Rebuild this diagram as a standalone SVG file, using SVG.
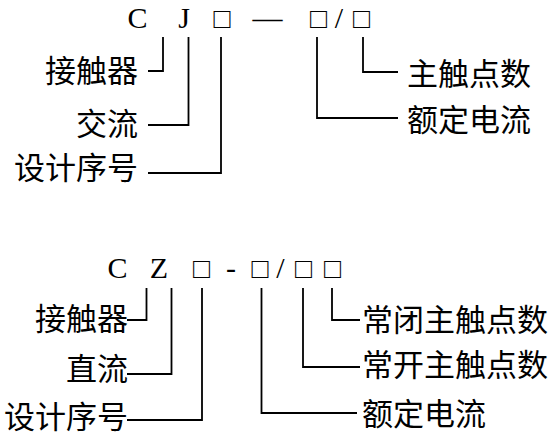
<svg xmlns="http://www.w3.org/2000/svg" width="550" height="436" viewBox="0 0 550 436">
<style>
.lat{font-family:"Liberation Serif","Times New Roman",serif;font-size:30px;fill:#000;text-anchor:middle}
.box{font-family:"Liberation Serif","Times New Roman",serif;font-size:28px;fill:#000;text-anchor:middle}
.cn{font-family:"Noto Sans CJK SC","Noto Sans CJK JP",sans-serif;font-size:31px;fill:#000}
.end{text-anchor:end}
.conn path{fill:none;stroke:#000;stroke-width:1.8}
</style>
<rect width="550" height="436" fill="#fff"/>
<g id="code1">
<text class="lat" x="137.5" y="28">C</text>
<text class="lat" x="184" y="28">J</text>
<text class="box" x="222" y="28">□</text>
<text class="lat" x="267.5" y="28">—</text>
<text class="box" x="318.5" y="28">□</text>
<text class="lat" x="339" y="28">/</text>
<text class="box" x="361.5" y="28">□</text>
</g>
<g id="n1-jcq"><text class="cn end" x="138" y="82">接触器</text></g>
<g id="n1-jl"><text class="cn end" x="138" y="135">交流</text></g>
<g id="n1-sjxh"><text class="cn end" x="138" y="179">设计序号</text></g>
<g id="n1-zcds"><text class="cn" x="407" y="85">主触点数</text></g>
<g id="n1-eddl"><text class="cn" x="407" y="131">额定电流</text></g>
<g id="code2">
<text class="lat" x="117.5" y="278">C</text>
<text class="lat" x="159" y="278">Z</text>
<text class="box" x="201.5" y="278">□</text>
<text class="lat" x="231" y="278">-</text>
<text class="box" x="260" y="278">□</text>
<text class="lat" x="280.5" y="278">/</text>
<text class="box" x="303.5" y="278">□</text>
<text class="box" x="332.5" y="278">□</text>
</g>
<g id="n2-jcq"><text class="cn end" x="128" y="330">接触器</text></g>
<g id="n2-zl"><text class="cn end" x="128" y="380">直流</text></g>
<g id="n2-sjxh"><text class="cn end" x="128" y="428">设计序号</text></g>
<g id="n2-cb"><text class="cn" x="362" y="331">常闭主触点数</text></g>
<g id="n2-ck"><text class="cn" x="362" y="376">常开主触点数</text></g>
<g id="n2-eddl"><text class="cn" x="362" y="425">额定电流</text></g>
<g id="connectors" class="conn">
<path d="M163,37 V71 H148"/>
<path d="M188.5,37 V125 H148"/>
<path d="M221,37 V173 H148"/>
<path d="M317,37 V118 H398"/>
<path d="M363,37 V72 H398"/>
<path d="M146.5,288 V320 H127"/>
<path d="M171.5,288 V374 H127"/>
<path d="M202,288 V420 H127"/>
<path d="M261.5,288 V413 H357"/>
<path d="M303,288 V367 H360"/>
<path d="M332,288 V320 H360"/>
</g>
</svg>
